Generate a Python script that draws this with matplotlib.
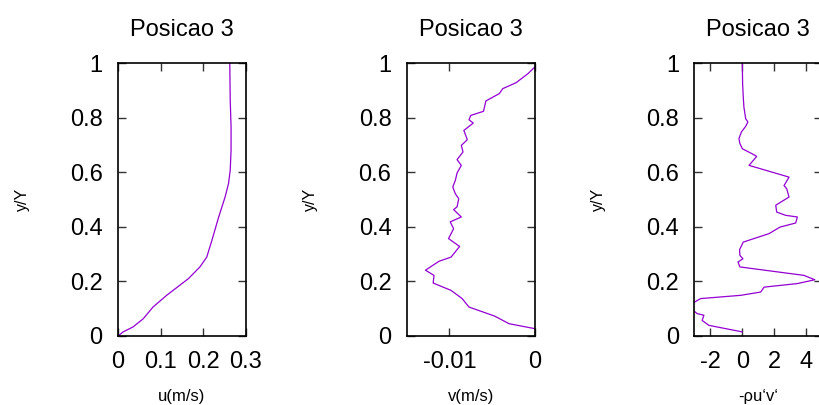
import matplotlib
matplotlib.use("Agg")
import matplotlib.pyplot as plt

plt.rcParams['font.family'] = ['Liberation Sans', 'DejaVu Sans']

# Profile at position 3: normalised height y/Y
u_y = [0.0, 0.015, 0.033, 0.063, 0.106, 0.149, 0.21, 0.253, 0.289, 0.35, 0.436,
       0.509, 0.558, 0.607, 0.68, 0.766, 0.864, 1.0]
u_val = [0.0, 0.012, 0.035, 0.059, 0.082, 0.114, 0.165, 0.192, 0.208, 0.22, 0.236,
         0.251, 0.259, 0.263, 0.265, 0.265, 0.263, 0.262]

v_y = [0.985, 0.961, 0.928, 0.906, 0.888, 0.861, 0.823, 0.808, 0.792, 0.780, 0.753,
       0.719, 0.698, 0.674, 0.646, 0.625, 0.597, 0.570, 0.546, 0.521, 0.503, 0.473,
       0.463, 0.436, 0.418, 0.393, 0.357, 0.328, 0.289, 0.274, 0.241, 0.222, 0.194,
       0.167, 0.137, 0.106, 0.073, 0.045, 0.027]
v_val = [0.0, -0.00079, -0.00217, -0.00375, -0.00414, -0.00572, -0.0060, -0.0075,
         -0.0077, -0.0072, -0.0083, -0.0079, -0.0086, -0.0084, -0.0091, -0.0086,
         -0.0091, -0.0093, -0.0096, -0.0093, -0.0089, -0.0091, -0.0095, -0.0086,
         -0.0099, -0.0095, -0.0101, -0.0088, -0.0098, -0.0112, -0.0128, -0.0118,
         -0.0119, -0.0098, -0.0085, -0.0077, -0.0047, -0.0030, 0.0]

rs_y = [1.0, 0.924, 0.875, 0.839, 0.796, 0.784, 0.768, 0.747, 0.723, 0.705, 0.686,
        0.667, 0.658, 0.625, 0.582, 0.551, 0.539, 0.509, 0.479, 0.454, 0.442, 0.436,
        0.414, 0.399, 0.375, 0.344, 0.316, 0.295, 0.283, 0.271, 0.253, 0.222, 0.206,
        0.192, 0.179, 0.161, 0.149, 0.137, 0.11, 0.082, 0.076, 0.057, 0.039, 0.015]
rs_val = [0.0, 0.02, 0.06, 0.10, 0.21, 0.35, 0.21, -0.06, -0.21, -0.15, 0.0,
          0.63, 0.90, 0.42, 2.92, 2.61, 2.78, 2.92, 2.09, 2.15, 2.71, 3.44,
          3.34, 2.36, 1.67, 0.06, -0.17, -0.15, 0.04, -0.27, -0.15, 3.86, 4.53,
          3.44, 1.36, 1.15, -0.10, -2.61, -3.4, -2.82, -2.40, -2.51, -2.09, 0.0]

panels = [
    dict(x=u_val, y=u_y, xlim=(0, 0.3), xticks=[0, 0.1, 0.2, 0.3],
         xticklabels=['0', '0.1', '0.2', '0.3'], xlabel='u(m/s)', left=118),
    dict(x=v_val, y=v_y, xlim=(-0.015, 0), xticks=[-0.01, 0],
         xticklabels=['-0.01', '0'], xlabel='v(m/s)', left=406.7),
    dict(x=rs_val, y=rs_y, xlim=(-3, 5), xticks=[-2, 0, 2, 4],
         xticklabels=['-2', '0', '2', '4'], xlabel='-ρu‘v‘', left=694.3),
]

W, H = 819, 405
fig = plt.figure(figsize=(W / 100, H / 100), dpi=100)
yticks = [0, 0.2, 0.4, 0.6, 0.8, 1]
ytlabels = ['0', '0.2', '0.4', '0.6', '0.8', '1']

for p in panels:
    ax = fig.add_axes([p['left'] / W, (H - 336) / H, 128 / W, 273 / H])
    ax.plot(p['x'], p['y'], color='#9400D3', lw=0.9)
    ax.set_xlim(*p['xlim'])
    ax.set_ylim(0, 1)
    ax.set_xticks(p['xticks'])
    ax.set_xticklabels(p['xticklabels'])
    ax.set_yticks(yticks)
    ax.set_yticklabels(ytlabels)
    ax.tick_params(direction='in', length=6, width=1, color='#333333',
                   top=True, right=True, labelsize=17, pad=11)
    ax.tick_params(axis='x', pad=11)
    for s in ax.spines.values():
        s.set_linewidth(1.2)
    ax.text(0.5, 1.10, 'Posicao 3', transform=ax.transAxes, ha='center',
            va='baseline', fontsize=17)
    ax.set_xlabel(p['xlabel'], fontsize=12, va='center')
    ax.xaxis.set_label_coords(0.5, -0.222)
    ax.set_ylabel('y/Y', fontsize=11.5, va='center')
    ax.yaxis.set_label_coords(-0.75, 0.5)

fig.savefig('out.png', dpi=100)
